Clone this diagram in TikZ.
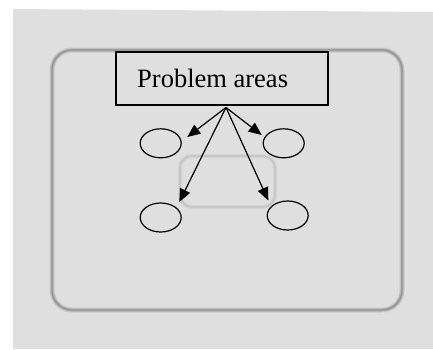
\documentclass[tikz,border=0pt]{standalone}
\usepackage{fontspec}
\setmainfont{Liberation Serif}
\usetikzlibrary{arrows.meta,shapes.geometric}
\begin{document}
\begin{tikzpicture}[x=1pt,y=-1pt,
  spot/.style={draw=black,line width=1.2pt,ellipse,minimum width=41pt,minimum height=29pt,inner sep=0pt},
  label box/.style={draw=black,line width=1.3pt,minimum width=212pt,minimum height=53pt,inner sep=0pt},
  pointer/.style={line width=1.2pt,-{Triangle[length=13pt,width=11pt]}},
  frame/.style={rounded corners=#1}]
\useasboundingbox (0,0) rectangle (433,349);
\fill[white] (0,0) rectangle (433,349);
\fill[gray!25] (13,9) -- (433,12) -- (433,349) -- (13,349) -- cycle;
% outer rounded frame (soft)
\draw[frame=20pt,line width=5pt,gray!42] (52,50) rectangle (402,310);
\draw[frame=20pt,line width=3pt,gray!62] (52,50) rectangle (402,310);
\draw[frame=20pt,line width=1.2pt,gray!85] (52,50) rectangle (402,310);
% inner rounded frame (faint)
\draw[frame=12pt,line width=4pt,gray!33] (180,156) rectangle (275,207);
\draw[frame=12pt,line width=1.8pt,gray!45] (180,156) rectangle (275,207);
% box
\node[label box] (pa) at (222,78.5) {};
\node[anchor=base west,font=\fontsize{26.5}{30}\selectfont,inner sep=0pt] (pat) at (137,87) {Problem areas};
% ellipses
\node[spot] (e1) at (160.7,143.3) {};
\node[spot] (e2) at (283.7,143.3) {};
\node[spot] (e3) at (160.7,217.5) {};
\node[spot] (e4) at (287.7,215.5) {};
% arrows
\coordinate (src) at (226,107.5);
\coordinate (t1) at (187.3,137);
\coordinate (t2) at (261.7,135);
\coordinate (t3) at (179.3,202);
\coordinate (t4) at (268.3,200.5);
\draw[pointer] (src) -- (t1);
\draw[pointer] (src) -- (t2);
\draw[pointer] (src) -- (t3);
\draw[pointer] (src) -- (t4);
\end{tikzpicture}
\end{document}
